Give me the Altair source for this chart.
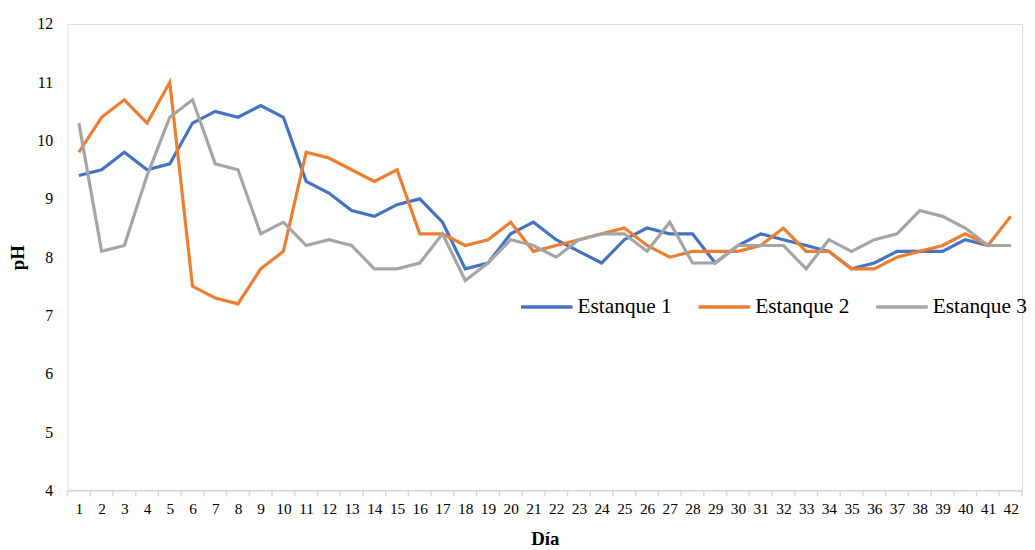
import altair as alt
import pandas as pd

days = list(range(1, 43))
estanque1 = [9.4, 9.5, 9.8, 9.5, 9.6, 10.3, 10.5, 10.4, 10.6, 10.4,
             9.3, 9.1, 8.8, 8.7, 8.9, 9.0, 8.6, 7.8, 7.9, 8.4,
             8.6, 8.3, 8.1, 7.9, 8.3, 8.5, 8.4, 8.4, 7.9, 8.2,
             8.4, 8.3, 8.2, 8.1, 7.8, 7.9, 8.1, 8.1, 8.1, 8.3,
             8.2, 8.2]
estanque2 = [9.8, 10.4, 10.7, 10.3, 11.0, 7.5, 7.3, 7.2, 7.8, 8.1,
             9.8, 9.7, 9.5, 9.3, 9.5, 8.4, 8.4, 8.2, 8.3, 8.6,
             8.1, 8.2, 8.3, 8.4, 8.5, 8.2, 8.0, 8.1, 8.1, 8.1,
             8.2, 8.5, 8.1, 8.1, 7.8, 7.8, 8.0, 8.1, 8.2, 8.4,
             8.2, 8.7]
estanque3 = [10.3, 8.1, 8.2, 9.4, 10.4, 10.7, 9.6, 9.5, 8.4, 8.6,
             8.2, 8.3, 8.2, 7.8, 7.8, 7.9, 8.4, 7.6, 7.9, 8.3,
             8.2, 8.0, 8.3, 8.4, 8.4, 8.1, 8.6, 7.9, 7.9, 8.2,
             8.2, 8.2, 7.8, 8.3, 8.1, 8.3, 8.4, 8.8, 8.7, 8.5,
             8.2, 8.2]
series_names = ["Estanque 1", "Estanque 2", "Estanque 3"]
series_colors = ["#4472C4", "#ED7D31", "#A5A5A5"]
y_ticks = [4, 5, 6, 7, 8, 9, 10, 11, 12]

rows = []
for name, vals in zip(series_names, [estanque1, estanque2, estanque3]):
    for d, v in zip(days, vals):
        rows.append({"Día": d, "pH": v, "serie": name})
df = pd.DataFrame(rows)

bounds = pd.DataFrame({"b": [d - 0.5 for d in days] + [days[-1] + 0.5]})

FONT = "Liberation Serif"
W, H = 962, 470

xscale = alt.Scale(domain=[0.5, 42.5], nice=False, zero=False)
xaxis = alt.Axis(values=days, ticks=False, grid=False, domainColor="#d9d9d9",
                 domainWidth=1.5, labelFont=FONT, labelFontSize=15.5, labelColor="#000000",
                 labelPadding=11, title="Día", titleFont=FONT, titleFontSize=19,
                 titleFontWeight="bold", titleColor="#000000", titlePadding=13,
                 labelFlush=False, labelOverlap=False, labelSeparation=0)

lines = alt.Chart(df).mark_line(strokeWidth=3.2).encode(
    x=alt.X("Día:Q", scale=xscale, axis=xaxis),
    y=alt.Y("pH:Q", scale=alt.Scale(domain=[4, 12], nice=False, zero=False),
            axis=alt.Axis(values=y_ticks, ticks=False, grid=False, domain=False,
                          labelFont=FONT, labelFontSize=16, labelColor="#000000",
                          labelPadding=15, title="pH", titleFont=FONT, titleFontSize=19,
                          titleFontWeight="bold", titleColor="#000000", titlePadding=9)),
    color=alt.Color("serie:N", scale=alt.Scale(domain=series_names, range=series_colors),
                    legend=alt.Legend(title=None, orient="none", legendX=455, legendY=257,
                                      direction="horizontal", symbolType="stroke",
                                      symbolSize=2700, symbolStrokeWidth=3.5,
                                      labelFont=FONT, labelFontSize=21.5, labelColor="#000000",
                                      labelOffset=3, columnPadding=20)),
)

ticks = alt.Chart(bounds).mark_rule(color="#d9d9d9", strokeWidth=1.5).encode(
    x=alt.X("b:Q", scale=xscale, axis=xaxis, title="Día"),
    y=alt.value(H),
    y2=alt.value(H + 6),
)

chart = alt.layer(lines, ticks).properties(
    width=W, height=H,
    autosize=alt.AutoSizeParams(type="none"),
    padding={"left": 60, "top": 14, "right": 5, "bottom": 58},
).configure_view(stroke=None).configure(
    background="#ffffff", font=FONT
).configure_axisX(labelOverlap=False, labelFont=FONT).configure_legend(labelFont=FONT)

chart.save("out.html", embed_options={"renderer": "svg", "actions": False})
